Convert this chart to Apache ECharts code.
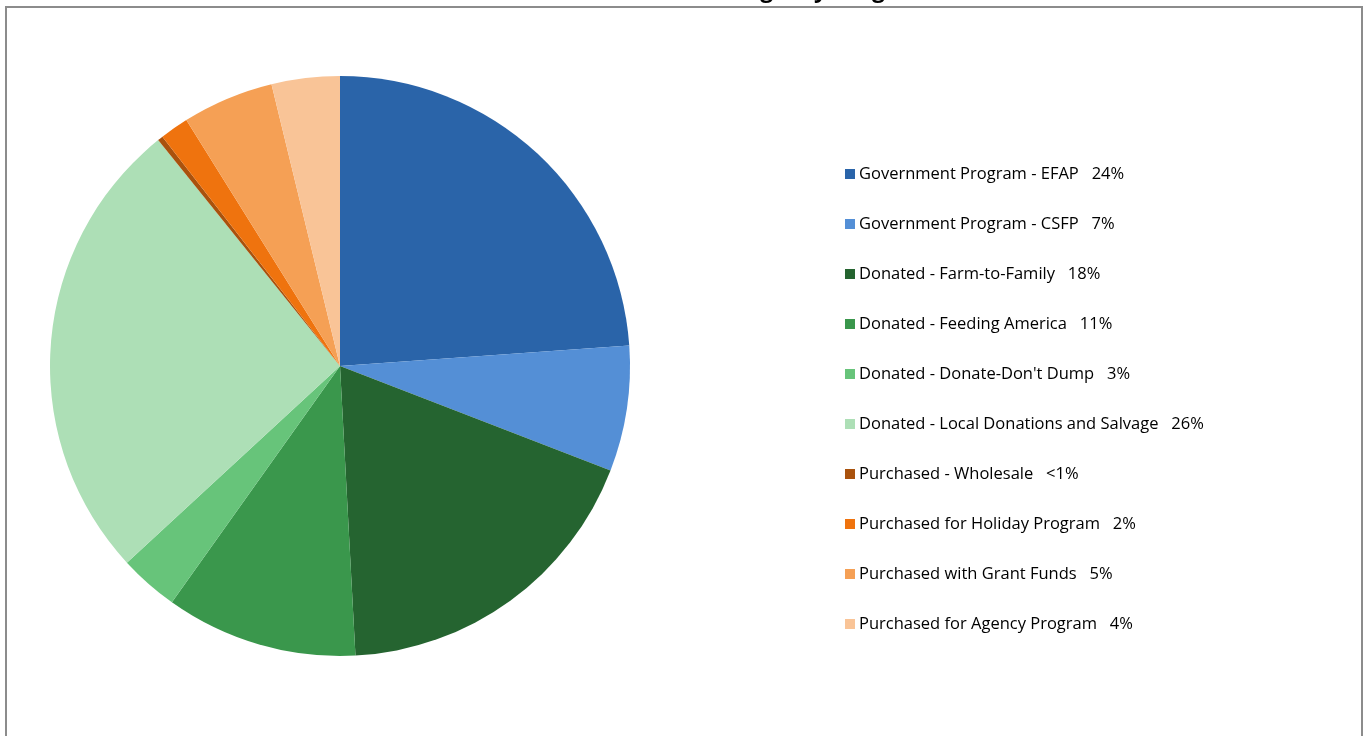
<!DOCTYPE html>
<html>
<head>
<meta charset="utf-8">
<script src="https://cdn.jsdelivr.net/npm/echarts@6/dist/echarts.min.js"></script>
<style>
  html, body { margin: 0; padding: 0; background: #fff; }
  #chart { width: 1365px; height: 736px; }
</style>
</head>
<body>
<div id="chart"></div>
<script>
// categories and shares (%)
const categories = [
  'Government Program - EFAP',
  'Government Program - CSFP',
  'Donated - Farm-to-Family',
  'Donated - Feeding America',
  "Donated - Donate-Don't Dump",
  'Donated - Local Donations and Salvage',
  'Purchased - Wholesale',
  'Purchased for Holiday Program',
  'Purchased with Grant Funds',
  'Purchased for Agency Program'
];
const values = [23.9, 7.0, 18.3, 10.7, 3.3, 26.1, 0.3, 1.6, 5.1, 3.8];
// percentages as printed in the legend
const pctLabels = ['24%', '7%', '18%', '11%', '3%', '26%', '<1%', '2%', '5%', '4%'];
const colors = ['#2a64a9', '#548fd6', '#256430', '#3a974c', '#67c47a',
                '#addfb6', '#a9520d', '#ef730e', '#f5a055', '#f9c497'];

const chart = echarts.init(document.getElementById('chart'));

chart.setOption({
  animation: false,
  color: colors,
  title: {
    text: 'Food Sources for Agency Program',
    left: 548,
    top: -21,
    padding: 0,
    textStyle: { fontFamily: 'Open Sans', fontWeight: 'bold', fontSize: 23, color: '#000' }
  },
  graphic: [{
    type: 'rect',
    shape: { x: 6, y: 7, width: 1356, height: 800 },
    style: { fill: 'none', stroke: '#8c8c8c', lineWidth: 2 },
    silent: true
  }],
  legend: {
    orient: 'vertical',
    left: 845,
    top: 164,
    padding: 0,
    icon: 'rect',
    itemWidth: 10,
    itemHeight: 10,
    itemGap: 30,
    textStyle: { fontFamily: 'Open Sans', fontSize: 16.5, color: '#000', lineHeight: 20, padding: [0, 0, 0, -1] },
    formatter: name => name + '   ' + pctLabels[categories.indexOf(name)]
  },
  series: [{
    type: 'pie',
    center: [340, 366],
    radius: 290,
    startAngle: 90,
    clockwise: true,
    label: { show: false },
    labelLine: { show: false },
    itemStyle: { borderWidth: 0 },
    emphasis: { disabled: true },
    data: categories.map((c, i) => ({ name: c, value: values[i] }))
  }]
});
</script>
</body>
</html>
